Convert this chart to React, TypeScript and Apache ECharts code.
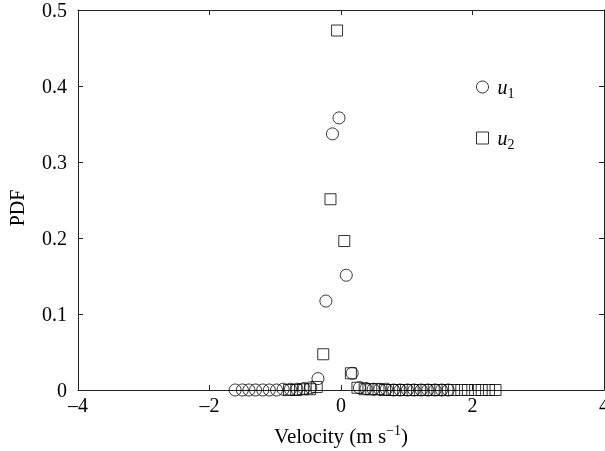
import React, { useEffect, useRef } from "react";
import * as echarts from "echarts";

const u1X = [-1.61, -1.5, -1.4, -1.3, -1.19, -1.09, -0.98, -0.88, -0.77, -0.67, -0.56, -0.46, -0.35, -0.23, -0.13, -0.03, 0.08, 0.17, 0.28, 0.38, 0.49, 0.59, 0.69, 0.8, 0.9, 1.01, 1.11, 1.22, 1.32, 1.43, 1.53, 1.63];
const u1Y = [0, 0, 0, 0, 0, 0, 0, 0.001, 0.001, 0.001, 0.002, 0.003, 0.015, 0.117, 0.337, 0.358, 0.151, 0.022, 0.003, 0.002, 0.001, 0.001, 0.001, 0, 0, 0, 0, 0, 0, 0, 0, 0];

const u2X = [-0.79, -0.68, -0.58, -0.47, -0.37, -0.27, -0.16, -0.06, 0.05, 0.15, 0.25, 0.36, 0.46, 0.57, 0.67, 0.78, 0.88, 0.99, 1.09, 1.2, 1.3, 1.41, 1.51, 1.62, 1.72, 1.83, 1.93, 2.04, 2.14, 2.25, 2.35];
const u2Y = [0, 0, 0.001, 0.001, 0.004, 0.047, 0.251, 0.473, 0.196, 0.022, 0.003, 0.001, 0.001, 0.001, 0, 0, 0, 0, 0, 0, 0, 0, 0, 0, 0, 0, 0, 0, 0, 0, 0];

const seriesNames = ["u1", "u2"];
const xTicks = { min: -4, max: 4, interval: 2 };
const yTicks = { min: 0, max: 0.5, interval: 0.1 };

const FONT = "Liberation Serif";

export default function App() {
  const ref = useRef<HTMLDivElement>(null);
  useEffect(() => {
    if (!ref.current) return;
    const chart = echarts.init(ref.current, undefined, { renderer: "svg" });
    const hollow = { color: "rgba(0,0,0,0)", borderColor: "#000", borderWidth: 1 };
    const axisLine = { show: true, onZero: false, lineStyle: { color: "#222", width: 1 } };
    const tick = { show: true, inside: true, length: 5, lineStyle: { color: "#222" } };
    chart.setOption({
      animation: false,
      grid: { left: 78, right: 1, top: 10, bottom: 61, outerBoundsMode: "none", containLabel: false },
      legend: {
        orient: "vertical",
        left: 471,
        top: 72,
        itemWidth: 12,
        itemHeight: 12,
        itemGap: 28,
        data: [
          { name: seriesNames[0], icon: "circle", itemStyle: hollow },
          { name: seriesNames[1], icon: "rect", itemStyle: hollow },
        ],
        formatter: (name: string) => `{u|u}{s|${name.slice(1)}}`,
        textStyle: {
          rich: {
            u: { fontFamily: FONT, fontStyle: "italic", fontSize: 20, color: "#000", lineHeight: 24, padding: [0, 0, 0, 4] },
            s: { fontFamily: FONT, fontSize: 14, color: "#000", padding: [12, 0, 0, 0] },
          },
        },
      },
      xAxis: [
        {
          type: "value",
          ...xTicks,
          position: "bottom",
          axisLine,
          axisTick: tick,
          splitLine: { show: false },
          axisLabel: {
            fontFamily: FONT,
            fontSize: 20,
            color: "#000",
            margin: 5,
            formatter: (v: number) => String(v).replace("-", "\u2013"),
          },
          name: "{a|Velocity (m s}{sup|\u22121}{a|)}",
          nameLocation: "middle",
          nameGap: 33,
          nameTextStyle: {
            rich: {
              a: { fontFamily: FONT, fontSize: 21, color: "#000" },
              sup: { fontFamily: FONT, fontSize: 14, color: "#000", padding: [0, 0, 11, 0] },
            },
          },
        },
        {
          type: "value",
          ...xTicks,
          position: "top",
          axisLine,
          axisTick: tick,
          axisLabel: { show: false },
          splitLine: { show: false },
        },
      ],
      yAxis: [
        {
          type: "value",
          ...yTicks,
          position: "left",
          axisLine,
          axisTick: tick,
          splitLine: { show: false },
          axisLabel: {
            fontFamily: FONT,
            fontSize: 20,
            color: "#000",
            margin: 11,
            formatter: (v: number) => (v === 0 ? "0" : v.toFixed(1)),
          },
          name: "PDF",
          nameLocation: "middle",
          nameGap: 51,
          nameTextStyle: { fontFamily: FONT, fontSize: 20, color: "#000", padding: [0, 0, 0, -16] },
        },
        {
          type: "value",
          ...yTicks,
          position: "right",
          axisLine,
          axisTick: tick,
          axisLabel: { show: false },
          splitLine: { show: false },
        },
      ],
      series: [
        {
          name: seriesNames[0],
          type: "scatter",
          symbol: "circle",
          symbolSize: 12,
          itemStyle: hollow,
          clip: false,
          data: u1X.map((x, i) => [x, u1Y[i]]),
        },
        {
          name: seriesNames[1],
          type: "scatter",
          symbol: "rect",
          symbolSize: 11,
          itemStyle: hollow,
          clip: false,
          data: u2X.map((x, i) => [x, u2Y[i]]),
        },
      ],
    });
    return () => chart.dispose();
  }, []);
  return <div ref={ref} style={{ position: "fixed", left: 0, top: 0, width: 605, height: 451 }} />;
}
